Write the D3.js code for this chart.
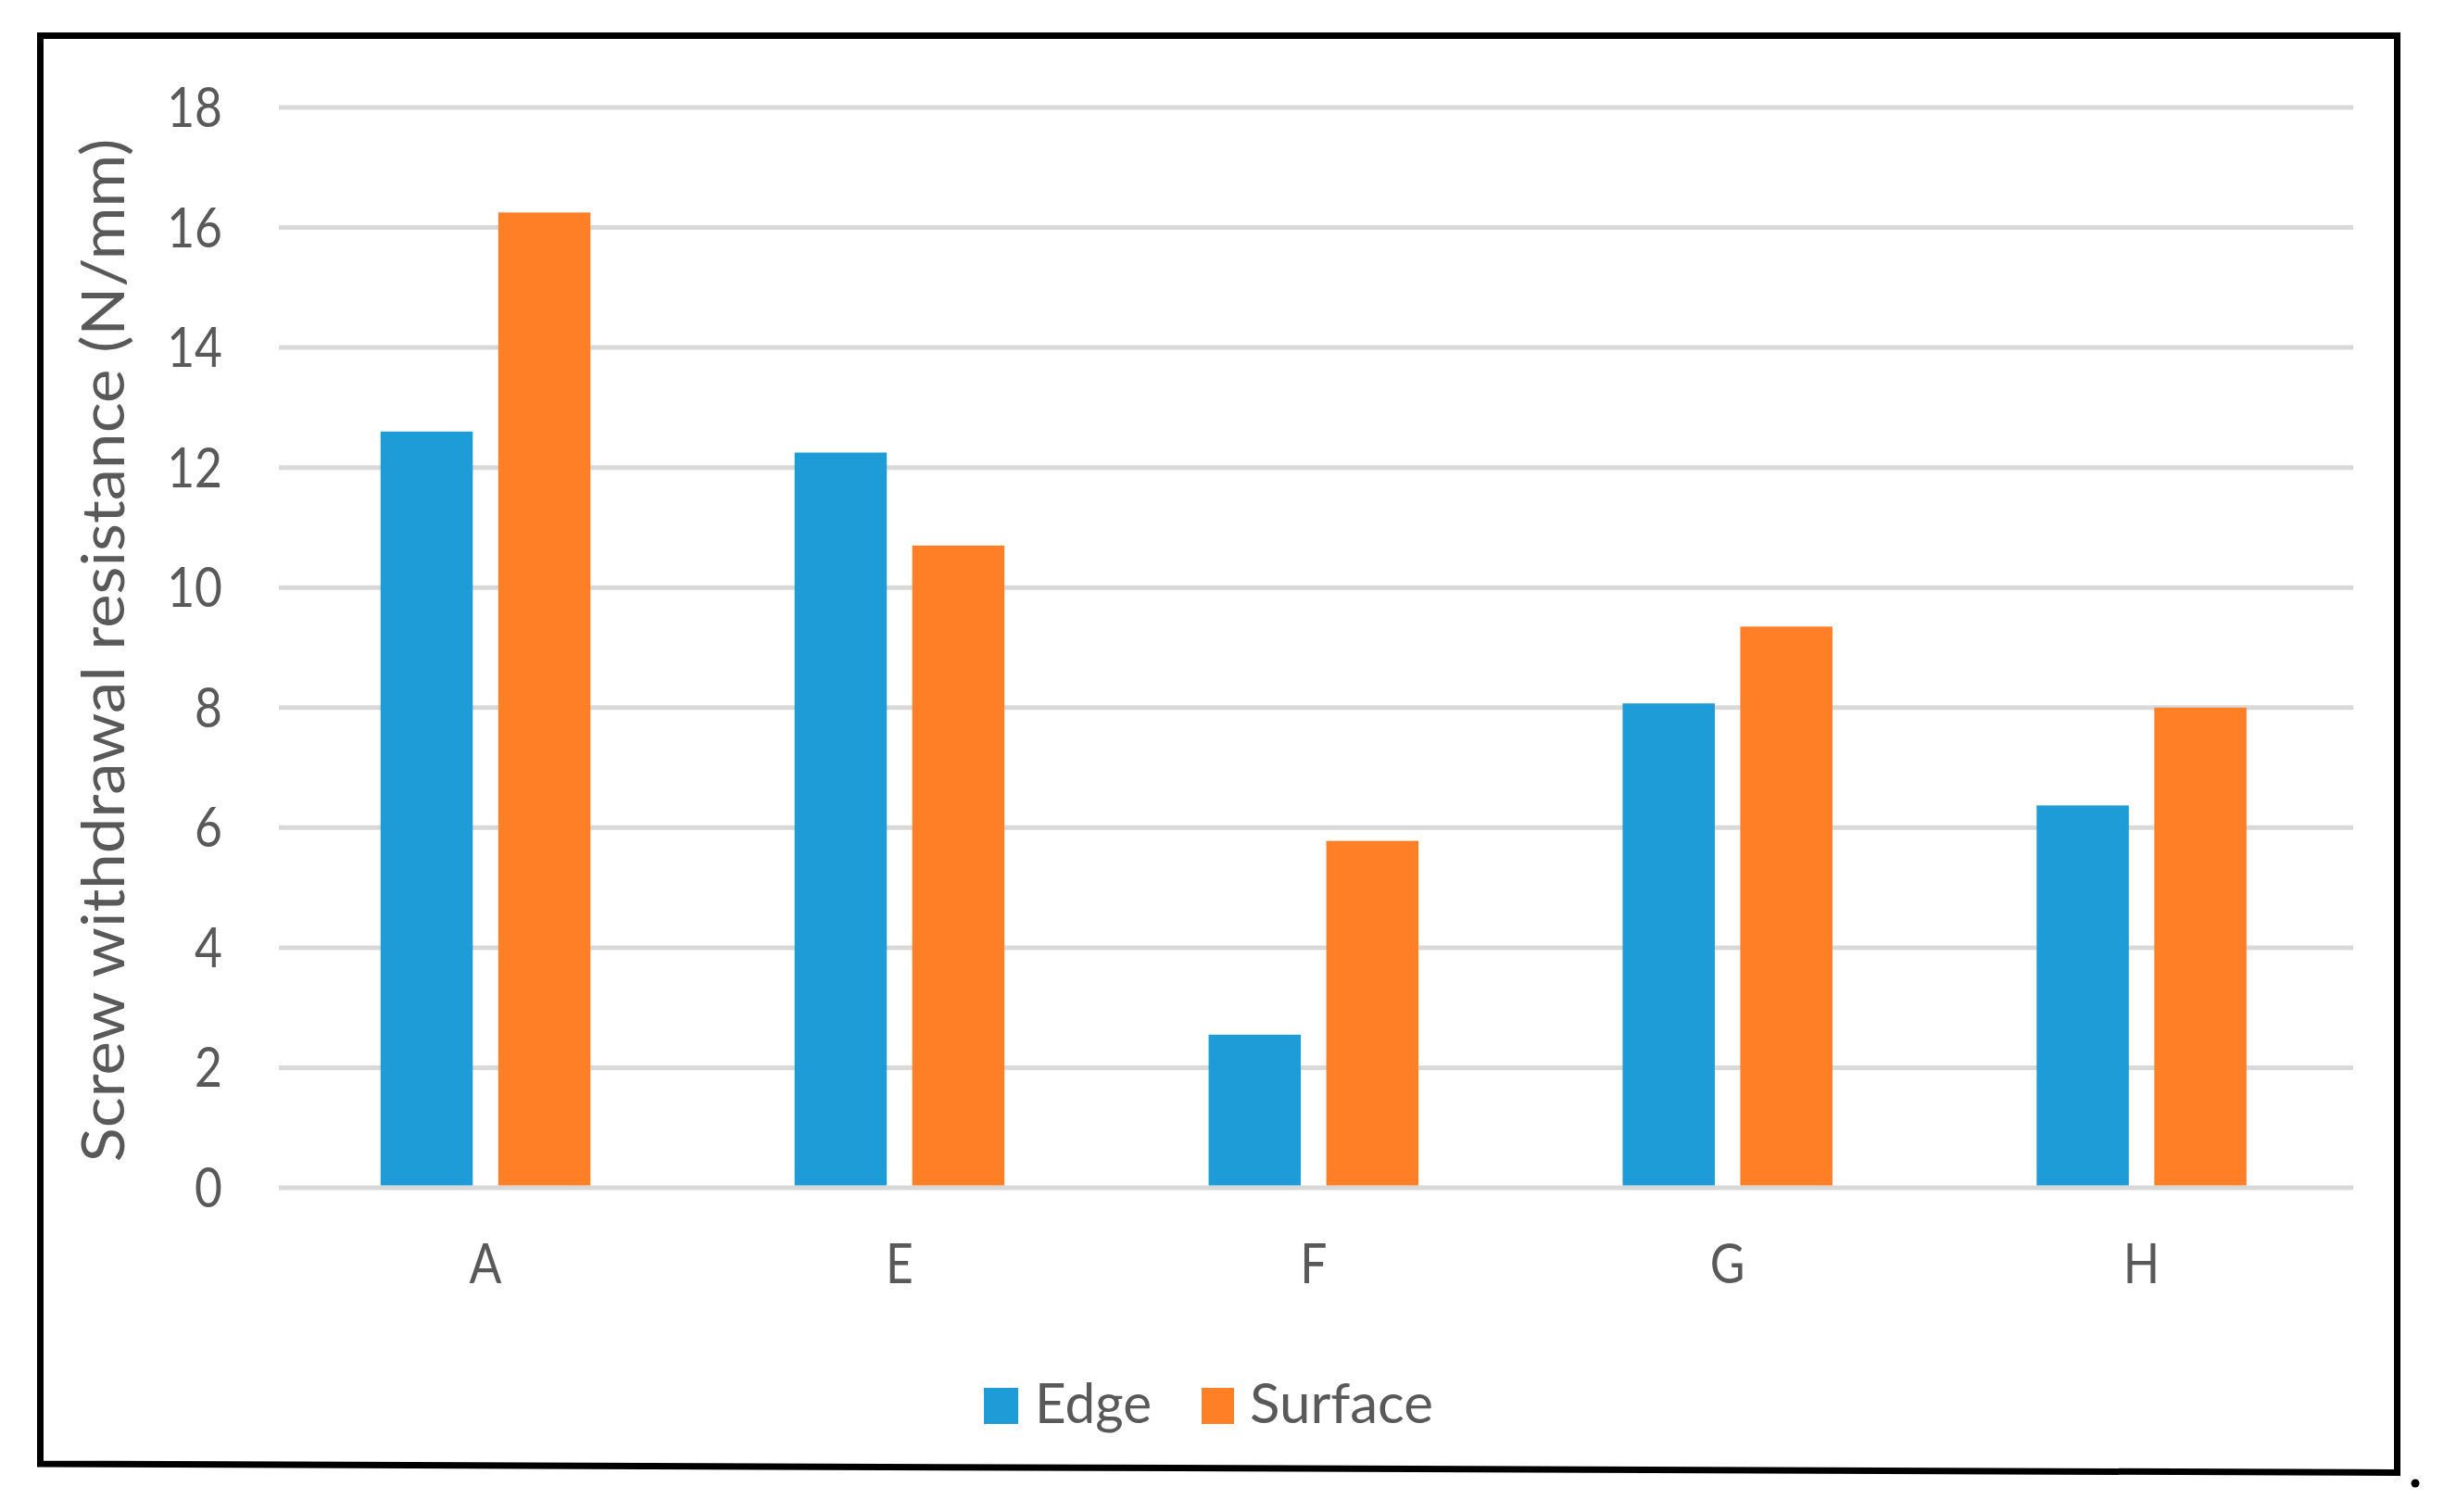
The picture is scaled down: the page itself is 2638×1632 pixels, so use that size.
<!DOCTYPE html>
<html>
<head>
<meta charset="utf-8">
<script src="https://cdn.jsdelivr.net/npm/d3@7"></script>
<style>
  html, body { margin: 0; padding: 0; background: #ffffff; }
  svg { display: block; }
  text { font-family: Lato, "Open Sans", sans-serif; fill: #595959; }
</style>
</head>
<body>
<svg id="chart" width="2638" height="1632"></svg>
<script>
// ---- data ----
const categories = ["A", "E", "F", "G", "H"];
const seriesNames = ["Edge", "Surface"];
const edgeValues = [12.6, 12.25, 2.55, 8.07, 6.37];
const surfaceValues = [16.25, 10.7, 5.78, 9.35, 8.0];
const yTicks = [0, 2, 4, 6, 8, 10, 12, 14, 16, 18];
const yTitle = "Screw withdrawal resistance (N/mm)";
const colors = ["#1e9cd7", "#ff7f27"];

const svg = d3.select("#chart");
const sx = 0.86; // slight horizontal narrowing of glyphs seen in reference

// scales
const y = d3.scaleLinear().domain([0, 18]).range([1282, 116]);
const x = d3.scaleBand().domain(categories).range([300.6, 2535]).padding(0);
const x1 = d3.scaleBand().domain(seriesNames).range([0, 226.5]).paddingInner(0.2165).paddingOuter(0);
const groupOffset = (x.bandwidth() - 226.5) / 2;

// gridlines
svg.append("g").selectAll("line").data(yTicks).join("line")
  .attr("x1", 301).attr("x2", 2540)
  .attr("y1", d => y(d)).attr("y2", d => y(d))
  .attr("stroke", "#d9d9d9").attr("stroke-width", 5);

// y tick labels
svg.append("g").selectAll("text").data(yTicks).join("text")
  .attr("transform", d => `translate(240,${y(d) + 21}) scale(${sx},1)`)
  .attr("text-anchor", "end")
  .attr("font-size", 60)
  .text(d => d);

// bars
const rows = categories.map((c, i) => ({ cat: c, vals: [edgeValues[i], surfaceValues[i]] }));
const groups = svg.append("g").selectAll("g").data(rows).join("g")
  .attr("transform", d => `translate(${x(d.cat) + groupOffset},0)`);
groups.selectAll("rect").data(d => d.vals.map((v, j) => ({ s: seriesNames[j], v, j })))
  .join("rect")
  .attr("x", d => x1(d.s))
  .attr("width", x1.bandwidth())
  .attr("y", d => y(d.v))
  .attr("height", d => y(0) - y(d.v) - 2.5)
  .attr("fill", d => colors[d.j]);

// x labels
svg.append("g").selectAll("text").data(categories).join("text")
  .attr("transform", d => `translate(${x(d) + x.bandwidth() / 2},1385) scale(${sx},1)`)
  .attr("text-anchor", "middle")
  .attr("font-size", 60)
  .text(d => d);

// y axis title
svg.append("text")
  .attr("transform", "translate(134,702) rotate(-90)")
  .attr("text-anchor", "middle")
  .attr("font-size", 64)
  .attr("textLength", 1105)
  .attr("lengthAdjust", "spacingAndGlyphs")
  .text(yTitle);

// legend
const legend = [
  { name: seriesNames[0], color: colors[0], rx: 1062, rw: 37, tx: 1117, tw: 126 },
  { name: seriesNames[1], color: colors[1], rx: 1297, rw: 35, tx: 1349, tw: 198 }
];
const lg = svg.append("g");
lg.selectAll("rect").data(legend).join("rect")
  .attr("x", d => d.rx).attr("y", 1498).attr("width", d => d.rw).attr("height", 39)
  .attr("fill", d => d.color);
lg.selectAll("text").data(legend).join("text")
  .attr("x", d => d.tx).attr("y", 1536)
  .attr("font-size", 60)
  .attr("textLength", d => d.tw)
  .attr("lengthAdjust", "spacingAndGlyphs")
  .text(d => d.name);

// frame
svg.append("path")
  .attr("d", "M43.5,38.5 L2587.5,38.5 L2587.5,1589.5 L43.5,1580 Z")
  .attr("fill", "none").attr("stroke", "#000").attr("stroke-width", 7);
svg.append("circle").attr("cx", 2607).attr("cy", 1601).attr("r", 4.5).attr("fill", "#000");
</script>
</body>
</html>
